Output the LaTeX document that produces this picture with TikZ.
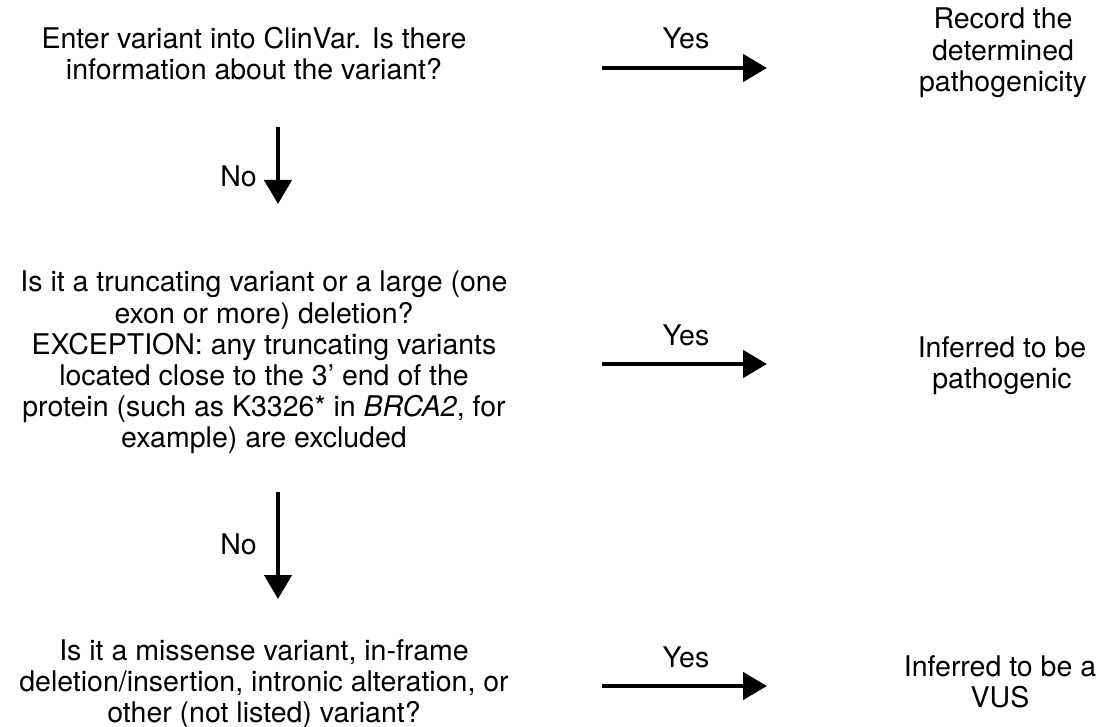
\documentclass[tikz,border=0pt]{standalone}
\usepackage{fontspec}
\setmainfont{TeX Gyre Heros}
\usetikzlibrary{arrows.meta}
\begin{document}
\begin{tikzpicture}[x=1pt,y=-1pt,
  txt/.style={align=center,inner sep=0pt,anchor=north,font=\fontsize{28.5}{31.2}\selectfont,execute at begin node=\strut},
  lbl/.style={inner sep=0pt,font=\fontsize{28.5}{31.2}\selectfont},
  arr/.style={line width=4.5pt,-{Triangle[length=24pt,width=27pt]}}]
\useasboundingbox (0,0) rectangle (1100,727);
% left column
\node[txt] (q1) at (254,27) {Enter variant into ClinVar. Is there\\information about the variant?};
\node[txt] (q2) at (264,271) {Is it a truncating variant or a large (one\\exon or more) deletion?\\EXCEPTION: any truncating variants\\located close to the 3’ end of the\\protein (such as K3326* in \textit{BRCA2}, for\\example) are excluded};
\node[txt] (q3) at (264,639) {Is it a missense variant, in-frame\\deletion/insertion, intronic alteration, or\\other (not listed) variant?};
% right column
\node[txt] (r1) at (1003,8) {Record the\\determined\\pathogenicity};
\node[txt] (r2) at (1002,336) {Inferred to be\\pathogenic};
\node[txt] (r3) at (1000,655) {Inferred to be a\\VUS};
% arrow end points
\coordinate (a1s) at (602,68);  \coordinate (a1e) at (767,68);
\coordinate (a2s) at (602,364); \coordinate (a2e) at (767,364);
\coordinate (a3s) at (602,686); \coordinate (a3e) at (767,686);
\coordinate (d1s) at (278,127); \coordinate (d1e) at (278,204);
\coordinate (d2s) at (278,492); \coordinate (d2e) at (278,599);
% arrows
\draw[arr] (a1s) -- (a1e);
\draw[arr] (a2s) -- (a2e);
\draw[arr] (a3s) -- (a3e);
\draw[arr] (d1s) -- (d1e);
\draw[arr] (d2s) -- (d2e);
% labels
\node[lbl,anchor=base] (y1) at (686,49) {Yes};
\node[lbl,anchor=base] (y2) at (686,345) {Yes};
\node[lbl,anchor=base] (y3) at (686,667) {Yes};
\node[lbl,anchor=base east] (n1) at (257,187) {No};
\node[lbl,anchor=base east] (n2) at (257,554) {No};
\end{tikzpicture}
\end{document}
